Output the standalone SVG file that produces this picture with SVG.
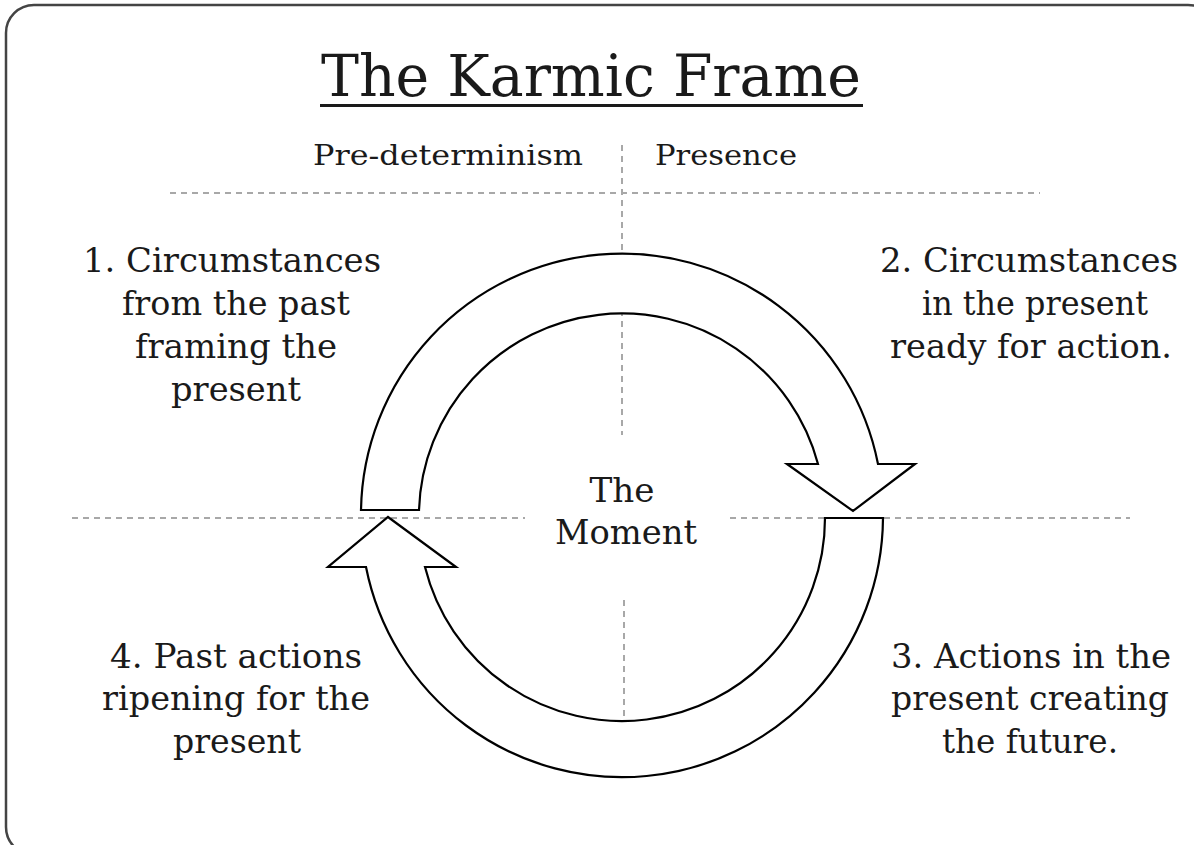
<svg xmlns="http://www.w3.org/2000/svg" width="1194" height="845" viewBox="0 0 1194 845">
<style>
.t{font-family:"DejaVu Serif","Liberation Serif",serif;fill:#1a1a1a;text-anchor:middle}
.b{font-size:33px}
.h{font-size:27px}
.d{stroke:#a8a8a8;stroke-width:2;stroke-dasharray:6 5;fill:none}
.ar{fill:#fff;stroke:#000;stroke-width:2.2;stroke-linejoin:miter}
</style>
<rect width="1194" height="845" fill="#fff"/>
<rect x="6" y="5" width="1210" height="850" rx="28" fill="#fff" stroke="#444" stroke-width="2.5"/>
<g id="title">
<text class="t" x="591" y="96" font-size="57" textLength="540" lengthAdjust="spacingAndGlyphs">The Karmic Frame</text>
<rect x="320" y="104" width="543" height="3" fill="#1a1a1a"/>
</g>
<g id="guides">
<line class="d" x1="170" y1="193" x2="1040" y2="193"/>
<line class="d" x1="622" y1="145" x2="622" y2="435"/>
<line class="d" x1="624" y1="600" x2="624" y2="778"/>
<line class="d" x1="72" y1="518" x2="525" y2="518"/>
<line class="d" x1="730" y1="518" x2="1130" y2="518"/>
</g>
<g id="headers">
<text class="t h" x="448" y="165" textLength="270" lengthAdjust="spacingAndGlyphs">Pre-determinism</text>
<text class="t h" x="726" y="165" textLength="142" lengthAdjust="spacingAndGlyphs">Presence</text>
</g>
<g id="connectors">
<path id="arrow-top" class="ar" d="M361,510 A261,261 0 0 1 878,464 L915,464 L853,511 L787,464 L818,464 A203,203 0 0 0 419,510 Z"/>
<path id="arrow-bottom" class="ar" d="M883,518 A261,261 0 0 1 366,567 L328,567 L388,517 L456,567 L425,567 A203,203 0 0 0 825,518 Z"/>
</g>
<g id="node-moment">
<text class="t b" x="622" y="502" textLength="65" lengthAdjust="spacingAndGlyphs">The</text>
<text class="t b" x="626" y="544" textLength="142" lengthAdjust="spacingAndGlyphs">Moment</text>
</g>
<g id="node-1">
<text class="t b" x="232" y="272" textLength="298" lengthAdjust="spacingAndGlyphs">1. Circumstances</text>
<text class="t b" x="236" y="315" textLength="228" lengthAdjust="spacingAndGlyphs">from the past</text>
<text class="t b" x="236" y="358" textLength="202" lengthAdjust="spacingAndGlyphs">framing the</text>
<text class="t b" x="236" y="401" textLength="130" lengthAdjust="spacingAndGlyphs">present</text>
</g>
<g id="node-2">
<text class="t b" x="1029" y="272" textLength="298" lengthAdjust="spacingAndGlyphs">2. Circumstances</text>
<text class="t b" x="1035" y="315" textLength="226" lengthAdjust="spacingAndGlyphs">in the present</text>
<text class="t b" x="1031" y="358" textLength="282" lengthAdjust="spacingAndGlyphs">ready for action.</text>
</g>
<g id="node-3">
<text class="t b" x="1031" y="668" textLength="280" lengthAdjust="spacingAndGlyphs">3. Actions in the</text>
<text class="t b" x="1030" y="710" textLength="278" lengthAdjust="spacingAndGlyphs">present creating</text>
<text class="t b" x="1030" y="753" textLength="176" lengthAdjust="spacingAndGlyphs">the future.</text>
</g>
<g id="node-4">
<text class="t b" x="236" y="668" textLength="252" lengthAdjust="spacingAndGlyphs">4. Past actions</text>
<text class="t b" x="236" y="710" textLength="268" lengthAdjust="spacingAndGlyphs">ripening for the</text>
<text class="t b" x="237" y="753" textLength="128" lengthAdjust="spacingAndGlyphs">present</text>
</g>
</svg>
